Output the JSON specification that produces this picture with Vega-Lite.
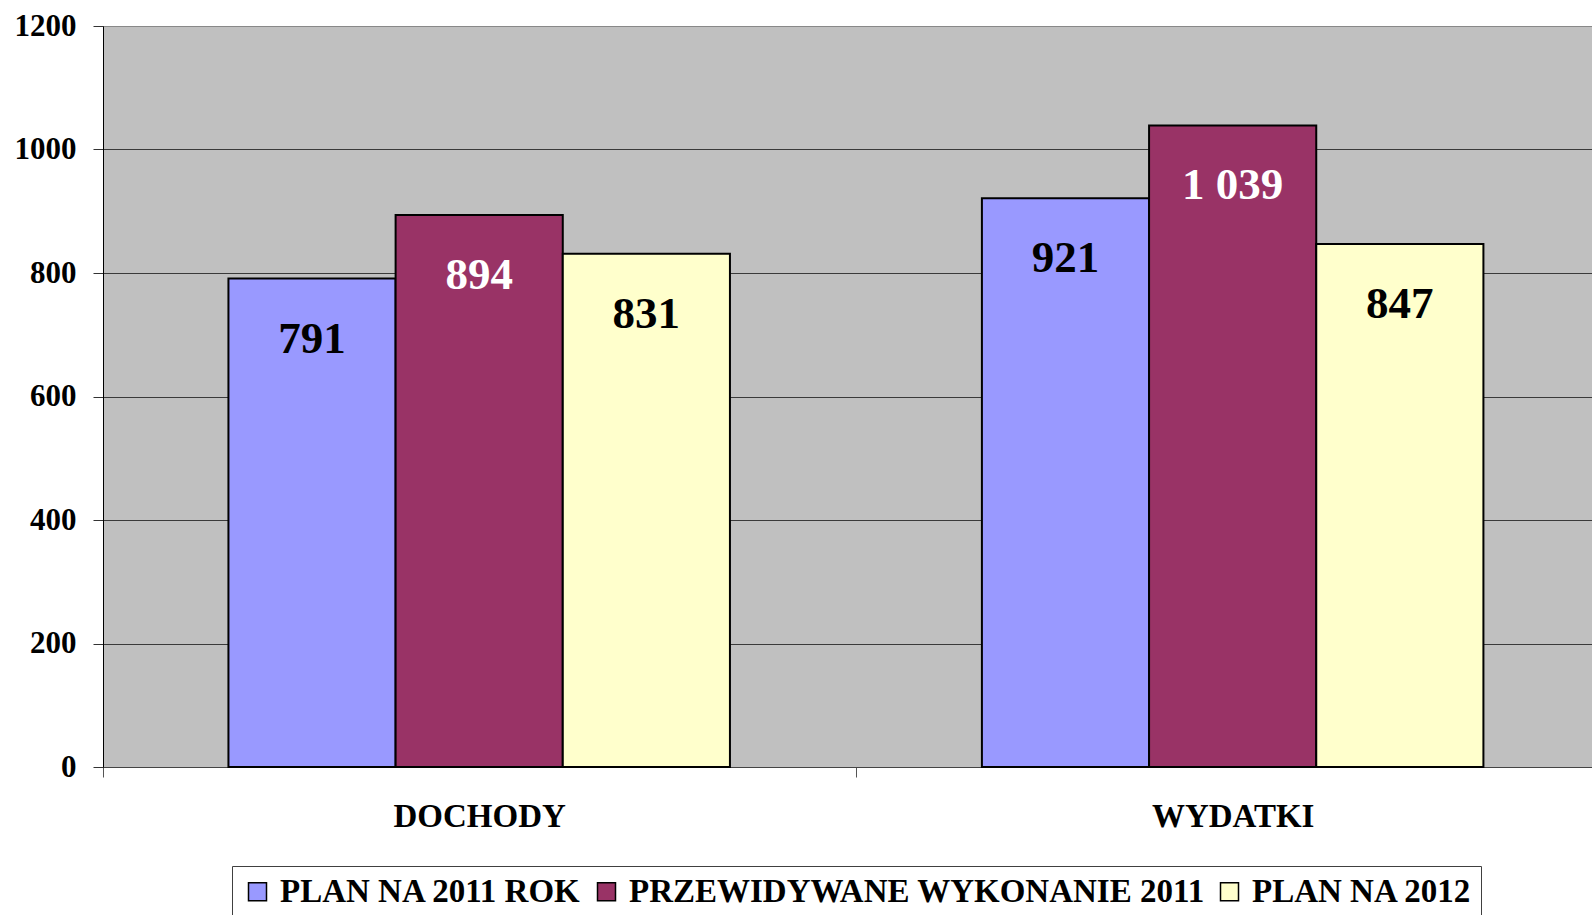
{
  "$schema": "https://vega.github.io/schema/vega-lite/v6.json",
  "autosize": {"type": "none"},
  "padding": {"left": 103, "top": 26, "right": 0, "bottom": 148},
  "width": 1489,
  "height": 741,
  "background": "white",
  "config": {
    "font": "Liberation Serif",
    "locale": {"number": {"decimal": ",", "thousands": " ", "grouping": [3], "currency": ["", ""]}},
    "view": {"fill": "#C0C0C0", "stroke": "#808080", "strokeWidth": 1}
  },
  "data": {
    "values": [
      {"category": "DOCHODY", "series": "PLAN NA 2011 ROK", "value": 791},
      {"category": "DOCHODY", "series": "PRZEWIDYWANE WYKONANIE 2011", "value": 894},
      {"category": "DOCHODY", "series": "PLAN NA 2012", "value": 831},
      {"category": "WYDATKI", "series": "PLAN NA 2011 ROK", "value": 921},
      {"category": "WYDATKI", "series": "PRZEWIDYWANE WYKONANIE 2011", "value": 1039},
      {"category": "WYDATKI", "series": "PLAN NA 2012", "value": 847}
    ]
  },
  "encoding": {
    "x": {
      "field": "category", "type": "nominal", "sort": ["DOCHODY", "WYDATKI"],
      "scale": {"paddingInner": 0.3344, "paddingOuter": 0.1553, "align": 0.536},
      "axis": {
        "title": null, "labelAngle": 0, "labelFontSize": 33, "labelFontWeight": "bold",
        "labelColor": "black", "bandPosition": 0, "tickExtra": false, "tickOffset": -125.5,
        "labelOffset": 125.5, "tickSize": 10, "tickColor": "#555",
        "domainColor": "#444", "labelBaseline": "alphabetic", "labelPadding": 49
      }
    },
    "xOffset": {
      "field": "series", "type": "nominal",
      "sort": ["PLAN NA 2011 ROK", "PRZEWIDYWANE WYKONANIE 2011", "PLAN NA 2012"],
      "scale": {"paddingInner": 0, "paddingOuter": 0}
    },
    "y": {
      "field": "value", "type": "quantitative",
      "scale": {"domain": [0, 1200], "nice": false},
      "axis": {
        "title": null, "values": [0, 200, 400, 600, 800, 1000, 1200], "format": "d",
        "labelFontSize": 31, "labelFontWeight": "bold", "labelColor": "black",
        "tickSize": 10, "tickColor": "#333", "domainColor": "black", "labelPadding": 17,
        "gridColor": {"condition": {"test": "datum.value === 1200", "value": "#888888"}, "value": "#3a3a3a"},
        "gridOpacity": 1
      }
    }
  },
  "layer": [
    {
      "mark": {"type": "bar", "stroke": "black", "strokeWidth": 2},
      "encoding": {
        "color": {
          "field": "series", "type": "nominal",
          "scale": {
            "domain": ["PLAN NA 2011 ROK", "PRZEWIDYWANE WYKONANIE 2011", "PLAN NA 2012"],
            "range": ["#9999FF", "#993366", "#FFFFCC"]
          },
          "legend": {
            "title": null, "orient": "none", "legendX": 129, "legendY": 840,
            "direction": "horizontal", "columns": 3,
            "symbolType": "square", "symbolSize": 324, "symbolStrokeColor": "black",
            "symbolStrokeWidth": 1.5, "symbolOpacity": 1,
            "labelFontSize": 33, "labelFontWeight": "bold", "labelColor": "black",
            "labelLimit": 800, "labelOffset": 6, "columnPadding": 8,
            "padding": 9, "strokeColor": "#404040", "fillColor": "white"
          }
        }
      }
    },
    {
      "mark": {"type": "text", "dy": 60, "baseline": "middle", "fontSize": 45, "fontWeight": "bold"},
      "encoding": {
        "text": {"field": "value", "type": "quantitative", "format": ",d"},
        "color": {
          "condition": {"test": "datum.series === 'PRZEWIDYWANE WYKONANIE 2011'", "value": "white"},
          "value": "black"
        }
      }
    }
  ]
}
